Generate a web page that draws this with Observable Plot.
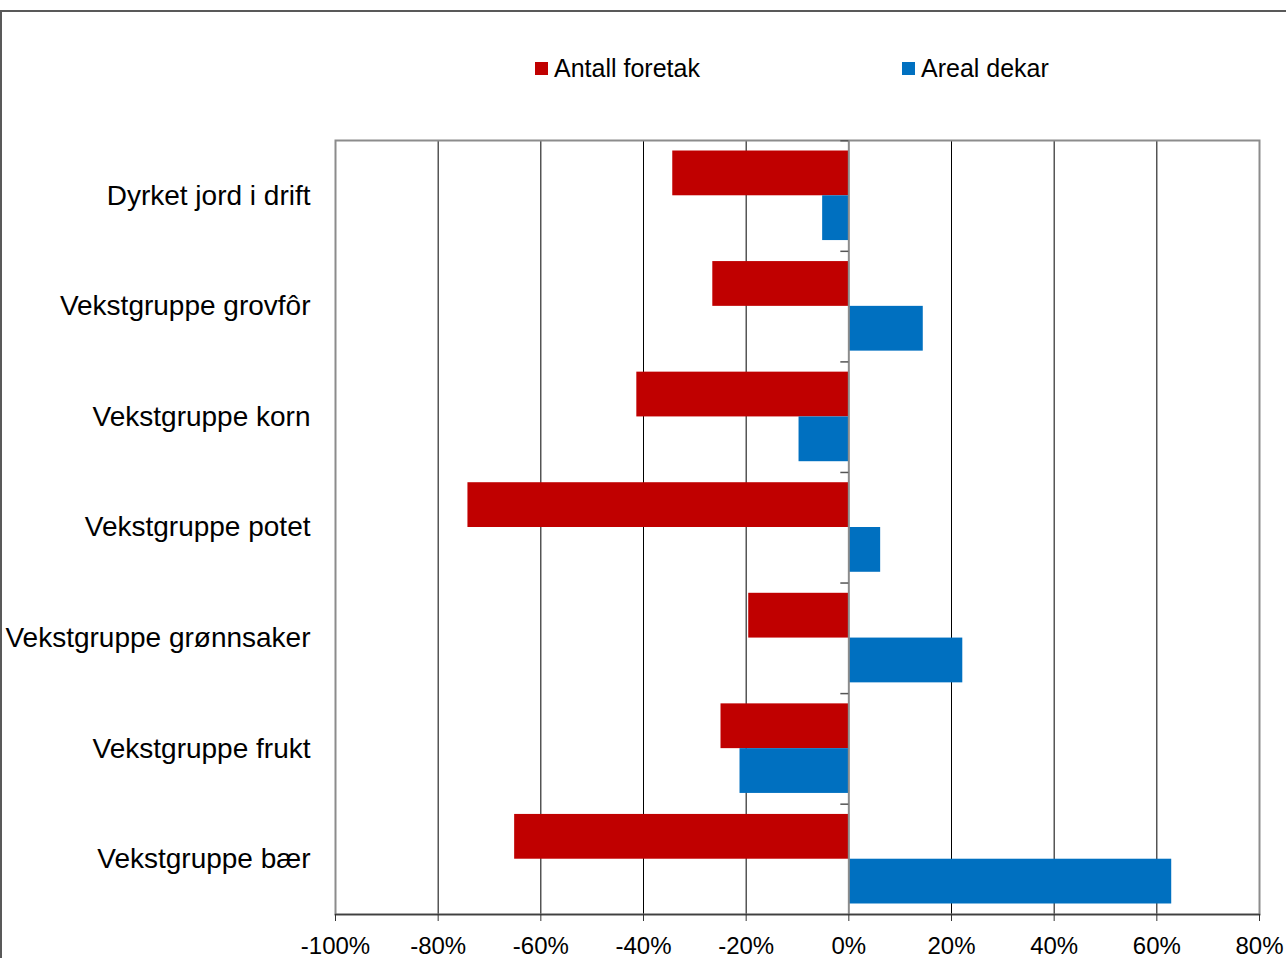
<!DOCTYPE html>
<html>
<head>
<meta charset="utf-8">
<script src="https://cdn.jsdelivr.net/npm/d3@7"></script>
<script src="https://cdn.jsdelivr.net/npm/@observablehq/plot@0.6"></script>
<style>
  html, body { margin: 0; padding: 0; background: #fff; overflow: hidden; }
  body { width: 1286px; height: 958px; position: relative; font-family: "Liberation Sans", Arial, sans-serif; }
  #border { position: absolute; left: 0; top: 10px; width: 1300px; height: 1000px; border: 2px solid #595959; box-sizing: border-box; }
  #chart { position: absolute; left: 0; top: 0; }
  .leg { position: absolute; top: 56px; font-size: 25px; line-height: 25px; color: #000; white-space: nowrap; }
  .sw { position: absolute; width: 13px; height: 13px; top: 62px; }
</style>
</head>
<body>
<div id="border"></div>
<div id="chart"></div>
<div class="sw" style="left:535px;background:#C00000"></div>
<div class="leg" style="left:554px">Antall foretak</div>
<div class="sw" style="left:902px;background:#0070C0"></div>
<div class="leg" style="left:921px">Areal dekar</div>
<script>
const categories = [
  "Dyrket jord i drift",
  "Vekstgruppe grovfôr",
  "Vekstgruppe korn",
  "Vekstgruppe potet",
  "Vekstgruppe grønnsaker",
  "Vekstgruppe frukt",
  "Vekstgruppe bær"
];
const antallForetak = [-34.3, -26.5, -41.3, -74.2, -19.5, -24.9, -65.1];
const arealDekar = [-5.1, 14.5, -9.7, 6.2, 22.2, -21.2, 62.9];
const xTicks = [-100, -80, -60, -40, -20, 0, 20, 40, 60, 80];
const gridTicks = [-80, -60, -40, -20, 20, 40, 60];

const red = categories.map((c, i) => ({category: c, value: antallForetak[i]}));
const blue = categories.map((c, i) => ({category: c, value: arealDekar[i]}));

const W = 1286, H = 958;
const mTop = 140, mBottom = 44, mLeft = 335, mRight = 27;
const bw = (H - mTop - mBottom) / categories.length;

const chart = Plot.plot({
  width: W,
  height: H,
  marginTop: mTop,
  marginBottom: mBottom,
  marginLeft: mLeft,
  marginRight: mRight,
  style: {fontFamily: "'Liberation Sans', Arial, sans-serif", color: "#000", background: "transparent"},
  x: {domain: [-100, 80]},
  y: {domain: categories, padding: 0, round: false},
  marks: [
    Plot.ruleX(gridTicks, {stroke: "#000", strokeWidth: 1}),
    Plot.frame({stroke: "#8c8c8c", strokeWidth: 2}),
    Plot.barX(red, {x: "value", y: "category", fill: "#C00000", insetTop: bw * 0.095, insetBottom: bw * 0.5}),
    Plot.barX(blue, {x: "value", y: "category", fill: "#0070C0", insetTop: bw * 0.5, insetBottom: bw * 0.095}),
    Plot.ruleX([0], {stroke: "#8c8c8c", strokeWidth: 2}),
    Plot.barX(categories, {x1: 0, x2: 0, y: d => d, fill: "#555", insetLeft: -8, insetBottom: bw - 1.5}),
    Plot.frame({anchor: "bottom", stroke: "#404040", strokeWidth: 1.5}),
    Plot.axisX({ticks: xTicks, tickFormat: d => d + "%", tickSize: 7, tickPadding: 15, fontSize: 24, stroke: "#333", fill: "#000", label: null}),
    Plot.axisY({tickSize: 0, tickPadding: 25, fontSize: 28, fill: "#000", label: null})
  ]
});
document.getElementById("chart").appendChild(chart);
</script>
</body>
</html>
